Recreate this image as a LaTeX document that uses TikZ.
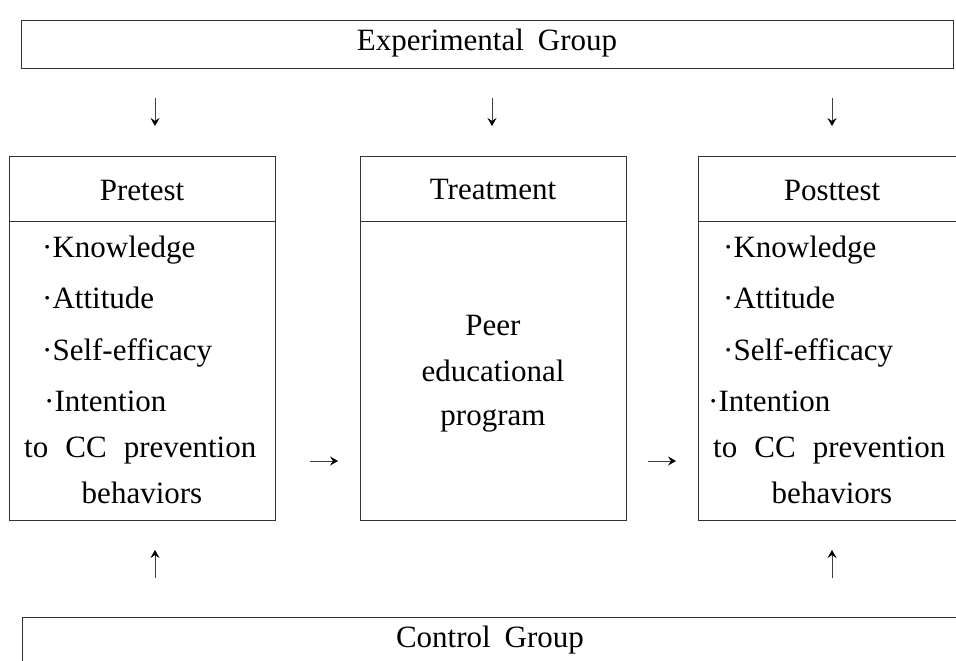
\documentclass[tikz,border=0pt]{standalone}
\usepackage{fontspec}
\setmainfont{Liberation Serif}
\usetikzlibrary{arrows.meta}
\begin{document}
\begin{tikzpicture}[x=1pt,y=-1pt,
  boxline/.style={draw=black!80,line width=1pt},
  txt/.style={inner sep=0pt,font=\fontsize{31}{36}\selectfont,text=black},
  flow/.style={draw=black!75,line width=0.8pt,-{Stealth[length=8pt,width=9pt,inset=3pt,color=black]}}]
\useasboundingbox (0,0) rectangle (956,661);
\clip (0,0) rectangle (956,661);
% Experimental group
\node[boxline,inner sep=0pt,minimum width=932,minimum height=48,anchor=north west] (exp) at (21,20) {};
\node[txt,anchor=base] (expt) at (487,51) {Experimental\hspace{0.45em}Group};
% Control group
\node[boxline,inner sep=0pt,minimum width=960,minimum height=80,anchor=north west] (ctl) at (22,617) {};
\node[txt,anchor=base] (ctlt) at (490,647) {Control\hspace{0.45em}Group};
% boxes
\node[boxline,inner sep=0pt,minimum width=266,minimum height=364,anchor=north west] (pre) at (9,156) {};
\node[boxline,inner sep=0pt,minimum width=266,minimum height=364,anchor=north west] (trt) at (360,156) {};
\node[boxline,inner sep=0pt,minimum width=280,minimum height=364,anchor=north west] (post) at (698,156) {};
\draw[boxline] (9,221) -- (275,221);
\draw[boxline] (360,221) -- (626,221);
\draw[boxline] (698,221) -- (978,221);
% pretest text
\node[txt,anchor=base] (preh) at (142,200) {Pretest};
\node[txt,anchor=base west] (p1) at (42,257) {·Knowledge};
\node[txt,anchor=base west] (p2) at (42,308) {·Attitude};
\node[txt,anchor=base west] (p3) at (42,360) {·Self-efficacy};
\node[txt,anchor=base west] (p4) at (44,411) {·Intention};
\node[txt,anchor=base west] (p5) at (24,457) {to\hspace{0.55em}CC\hspace{0.55em}prevention};
\node[txt,anchor=base] (p6) at (142,503) {behaviors};
% treatment text
\node[txt,anchor=base] (trth) at (493,199) {Treatment};
\node[txt,anchor=base] (t1) at (493,335) {Peer};
\node[txt,anchor=base] (t2) at (493,381) {educational};
\node[txt,anchor=base] (t3) at (493,425) {program};
% posttest text
\node[txt,anchor=base] (posth) at (832,200) {Posttest};
\node[txt,anchor=base west] (q1) at (723,257) {·Knowledge};
\node[txt,anchor=base west] (q2) at (723,308) {·Attitude};
\node[txt,anchor=base west] (q3) at (723,360) {·Self-efficacy};
\node[txt,anchor=base west] (q4) at (708,411) {·Intention};
\node[txt,anchor=base west] (q5) at (713,457) {to\hspace{0.55em}CC\hspace{0.55em}prevention};
\node[txt,anchor=base] (q6) at (832,503) {behaviors};
% arrow coordinates
\coordinate (d1a) at (155,98);  \coordinate (d1b) at (155,126);
\coordinate (d2a) at (492,98);  \coordinate (d2b) at (492,126);
\coordinate (d3a) at (832,98);  \coordinate (d3b) at (832,126);
\coordinate (r1a) at (310,461); \coordinate (r1b) at (338,461);
\coordinate (r2a) at (648,461); \coordinate (r2b) at (676,461);
\coordinate (u1a) at (155,578); \coordinate (u1b) at (155,550);
\coordinate (u2a) at (832,578); \coordinate (u2b) at (832,550);
\draw[flow] (d1a) -- (d1b);
\draw[flow] (d2a) -- (d2b);
\draw[flow] (d3a) -- (d3b);
\draw[flow] (r1a) -- (r1b);
\draw[flow] (r2a) -- (r2b);
\draw[flow] (u1a) -- (u1b);
\draw[flow] (u2a) -- (u2b);
\end{tikzpicture}
\end{document}
